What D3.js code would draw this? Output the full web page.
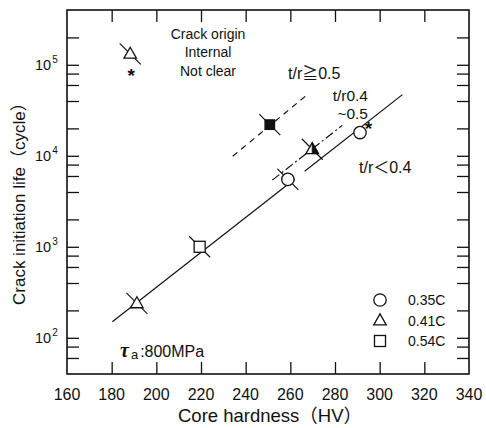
<!DOCTYPE html>
<html>
<head>
<meta charset="utf-8">
<script src="https://cdn.jsdelivr.net/npm/d3@7"></script>
<style>
  html, body { margin: 0; padding: 0; background: #fff; }
  svg { display: block; font-family: "Liberation Sans", Arial, "Noto Sans CJK JP", sans-serif; }
</style>
</head>
<body>
<svg id="chart" width="486" height="428"></svg>
<script>
// Crack initiation life vs. core hardness, shear stress amplitude 800 MPa

// ---- axes ----
const hardnessDomain = [160, 340];
const hardnessTicks = [160, 180, 200, 220, 240, 260, 280, 300, 320, 340];
const lifeDomain = [40, 4e5];
const lifeMajorTicks = [1e2, 1e3, 1e4, 1e5];
const lifeMinorTicks = [60, 80, 200, 400, 600, 800, 2e3, 4e3, 6e3, 8e3,
                        2e4, 4e4, 6e4, 8e4, 2e5];
const lifeTickExponents = ["2", "3", "4", "5"];

// ---- steels (legend) ----
const steels = ["0.35C", "0.41C", "0.54C"];
const steelShapes = ["circle", "triangle", "square"];

// ---- test results ----
const pointSteel    = ["0.41C", "0.41C", "0.54C", "0.35C", "0.41C", "0.35C", "0.54C"];
const pointHardness = [191.3, 188.3, 219.4, 258.9, 269.8, 291.2, 250.8];
const pointLife     = [239, 1.32e5, 1000, 5500, 1.18e4, 1.8e4, 2.2e4];
// crack origin: surface marks open, internal marks filled / half filled
const pointFill     = ["open", "open", "open", "open", "half", "open", "full"];
const pointCrossed  = [true, true, true, true, true, false, true];

// origin not clear (asterisks)
const unclearHardness = [188.7, 295.0];
const unclearLife     = [8.5e4, 2.26e4];

// ---- trend lines by notch ratio t/r ----
const trendNames    = ["t/r<0.4", "t/r0.4-0.5", "t/r>=0.5"];
const trendHardness = [[180.3, 310.2], [251.9, 283.3], [234.2, 267.6]];
const trendLife     = [[150, 4.7e4], [5.4e3, 2.16e4], [9.9e3, 4.7e4]];
const trendDash     = [null, "9,3,2,3", "6,5"];
// the t/r<0.4 line is interrupted between these hardness values
const trendMainBreak = [262.0, 266.4];

const svg = d3.select("#chart");
const x = d3.scaleLinear().domain(hardnessDomain).range([67, 469]);
const y = d3.scaleLog().domain(lifeDomain).range([374, 10]);

const [x0, x1] = x.range();
const [yb, yt] = y.range();

// ---- ticks (inward on all four sides) ----
const allLifeTicks = lifeMajorTicks.concat(lifeMinorTicks);
const inner = hardnessTicks.slice(1, -1);

function styleAxis(g) {
  g.select(".domain").remove();
  g.selectAll(".tick line").attr("stroke", "#111").attr("stroke-width", 1.3);
  g.selectAll(".tick text").remove();
}
svg.append("g").attr("transform", `translate(0,${yb})`)
  .call(d3.axisBottom(x).tickValues(inner).tickSize(-12)).call(styleAxis);
svg.append("g").attr("transform", `translate(0,${yt})`)
  .call(d3.axisTop(x).tickValues(inner).tickSize(-12)).call(styleAxis);
svg.append("g").attr("transform", `translate(${x0},0)`)
  .call(d3.axisLeft(y).tickValues(allLifeTicks).tickSize(-12)).call(styleAxis);
svg.append("g").attr("transform", `translate(${x1},0)`)
  .call(d3.axisRight(y).tickValues(allLifeTicks).tickSize(-12)).call(styleAxis);

// frame
svg.append("rect")
  .attr("x", x0).attr("y", yt).attr("width", x1 - x0).attr("height", yb - yt)
  .attr("fill", "none").attr("stroke", "#111").attr("stroke-width", 1.6);

// x tick labels
svg.append("g").selectAll("text").data(hardnessTicks).join("text")
  .attr("x", d => x(d)).attr("y", 400)
  .attr("text-anchor", "middle").attr("font-size", 16).attr("fill", "#111")
  .text(d => d);

// y tick labels: 10^n
const yl = svg.append("g").selectAll("text").data(lifeMajorTicks).join("text")
  .attr("x", 35).attr("y", d => y(d) + 5)
  .attr("font-size", 14.5).attr("fill", "#111");
yl.append("tspan").text("10");
yl.append("tspan").attr("font-size", 10).attr("dy", -7).attr("dx", 1)
  .text((d, i) => lifeTickExponents[i]);

// axis titles
svg.append("text")
  .attr("x", 178).attr("y", 421.5)
  .attr("font-size", 18.5).attr("fill", "#111")
  .text("Core hardness（HV）");
svg.append("text")
  .attr("transform", "translate(25,305) rotate(-90)")
  .attr("font-size", 17).attr("fill", "#111")
  .text("Crack initiation life（cycle）");

// ---- trend lines ----
const lg = svg.append("g").attr("fill", "none").attr("stroke", "#111").attr("stroke-width", 1.2);
function lifeOnTrend(i, h) {
  const [h0, h1] = trendHardness[i];
  const l0 = Math.log10(trendLife[i][0]), l1 = Math.log10(trendLife[i][1]);
  return Math.pow(10, l0 + (h - h0) / (h1 - h0) * (l1 - l0));
}
const mainPieces = [
  [trendHardness[0][0], trendMainBreak[0]],
  [trendMainBreak[1], trendHardness[0][1]]
];
mainPieces.forEach(([a, b]) => {
  lg.append("line")
    .attr("x1", x(a)).attr("y1", y(lifeOnTrend(0, a)))
    .attr("x2", x(b)).attr("y2", y(lifeOnTrend(0, b)));
});
[1, 2].forEach(i => {
  lg.append("line")
    .attr("x1", x(trendHardness[i][0])).attr("y1", y(trendLife[i][0]))
    .attr("x2", x(trendHardness[i][1])).attr("y2", y(trendLife[i][1]))
    .attr("stroke-dasharray", trendDash[i]);
});

// ---- markers ----
const shapeOf = s => steelShapes[steels.indexOf(s)];
const crossLen = 10.5;

function drawMarker(g, shape, cx, cy, fill) {
  if (shape === "circle") {
    g.append("circle").attr("cx", cx).attr("cy", cy).attr("r", 6.2)
      .attr("fill", fill === "full" ? "#111" : "#fff").attr("stroke", "#111").attr("stroke-width", 1.3);
  } else if (shape === "square") {
    const s = fill === "full" ? 9.5 : 11;
    g.append("rect").attr("x", cx - s / 2).attr("y", cy - s / 2).attr("width", s).attr("height", s)
      .attr("fill", fill === "full" ? "#111" : "#fff").attr("stroke", "#111").attr("stroke-width", 1.3);
  } else {
    const w = 12.5, h = 11;
    const pts = [[cx, cy - h * 0.6], [cx + w / 2, cy + h * 0.4], [cx - w / 2, cy + h * 0.4]];
    g.append("polygon").attr("points", pts.map(p => p.join(",")).join(" "))
      .attr("fill", fill === "full" ? "#111" : "#fff").attr("stroke", "#111").attr("stroke-width", 1.3)
      .attr("stroke-linejoin", "miter");
    if (fill === "half") {
      const half = [[cx, cy - h * 0.6], [cx + w / 2, cy + h * 0.4], [cx, cy + h * 0.4]];
      g.append("polygon").attr("points", half.map(p => p.join(",")).join(" "))
        .attr("fill", "#111").attr("stroke", "#111").attr("stroke-width", 1);
    }
  }
}

const mg = svg.append("g");
pointHardness.forEach((h, i) => {
  const cx = x(h), cy = y(pointLife[i]);
  if (pointCrossed[i]) {
    mg.append("line")
      .attr("x1", cx - crossLen).attr("y1", cy - crossLen)
      .attr("x2", cx + crossLen).attr("y2", cy + crossLen)
      .attr("stroke", "#111").attr("stroke-width", 1.2);
  }
  drawMarker(mg, shapeOf(pointSteel[i]), cx, cy, pointFill[i]);
});

// asterisks: crack origin not clear
svg.append("g").selectAll("text").data(unclearHardness).join("text")
  .attr("x", d => x(d)).attr("y", (d, i) => y(unclearLife[i]) + 11)
  .attr("text-anchor", "middle").attr("font-size", 19).attr("font-weight", "bold").attr("fill", "#111")
  .text("*");

// ---- annotations ----
const ann = svg.append("g").attr("fill", "#111");
["Crack origin", "Internal", "Not clear"].forEach((t, i) => {
  ann.append("text").attr("x", 208).attr("y", 38.5 + i * 18.5)
    .attr("text-anchor", "middle").attr("font-size", 14).text(t);
});
ann.append("text").attr("x", 288).attr("y", 78.5).attr("font-size", 16).text("t/r≧0.5");
ann.append("text").attr("x", 368).attr("y", 101).attr("text-anchor", "end").attr("font-size", 15.5).text("t/r0.4");
ann.append("text").attr("x", 368).attr("y", 119).attr("text-anchor", "end").attr("font-size", 15.5).text("~0.5");
ann.append("text").attr("x", 359).attr("y", 173).attr("font-size", 16).text("t/r＜0.4");

// stress amplitude
const tau = ann.append("text").attr("x", 120).attr("y", 357);
tau.append("tspan").attr("font-family", "'Liberation Serif', serif").attr("font-weight", "bold")
  .attr("font-style", "italic").attr("font-size", 20).text("τ");
tau.append("tspan").attr("font-size", 13).attr("dx", 2).attr("dy", 2).text("a");
tau.append("tspan").attr("font-size", 16).attr("dx", 2).attr("dy", -2).text(":800MPa");

// ---- legend ----
const leg = svg.append("g");
steels.forEach((s, i) => {
  const cy = 300 + i * 20.5;
  drawMarker(leg, steelShapes[i], 380, cy, "open");
  leg.append("text").attr("x", 408).attr("y", cy + 5).attr("font-size", 14).attr("fill", "#111").text(s);
});
</script>
</body>
</html>
